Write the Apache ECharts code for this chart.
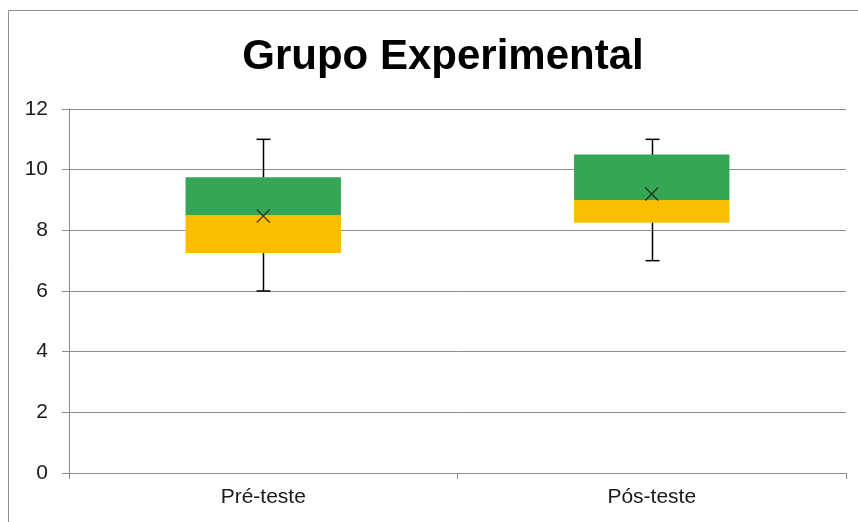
<!DOCTYPE html>
<html>
<head>
<meta charset="utf-8">
<script src="https://cdn.jsdelivr.net/npm/echarts@6/dist/echarts.min.js"></script>
<style>
  html, body { margin: 0; padding: 0; background: #fff; }
  #main { width: 858px; height: 522px; }
</style>
</head>
<body>
<div id="main"></div>
<script>
// dados
var categorias = ['Pré-teste', 'Pós-teste'];
var minimo = [6, 7];
var q1 = [7.25, 8.25];
var mediana = [8.5, 9];
var q3 = [9.75, 10.5];
var maximo = [11, 11];
var media = [8.47, 9.2];
var yTicks = [0, 2, 4, 6, 8, 10, 12];

var chart = echarts.init(document.getElementById('main'));

var baseVals = q1.slice();
var inferior = q1.map(function (v, i) { return mediana[i] - v; });
var superior = q3.map(function (v, i) { return v - mediana[i]; });

var fonte = 'Liberation Sans, Arial, sans-serif';

var option = {
  animation: false,
  backgroundColor: '#fff',
  title: {
    text: 'Grupo Experimental',
    left: 438,
    top: 31,
    textAlign: 'center',
    textStyle: { fontFamily: fonte, fontSize: 42, fontWeight: 'bold', color: '#000' }
  },
  graphic: [{
    type: 'rect',
    shape: { x: 8.5, y: 10.5, width: 900, height: 600 },
    style: { fill: 'none', stroke: '#8c8c8c', lineWidth: 1 },
    silent: true
  }],
  grid: { left: 69, right: 12, top: 109, bottom: 49 },
  xAxis: {
    type: 'category',
    data: categorias,
    boundaryGap: true,
    axisLine: { lineStyle: { color: '#8c8c8c', width: 1 } },
    axisTick: { show: true, length: 6, lineStyle: { color: '#8c8c8c' } },
    axisLabel: { fontFamily: fonte, fontSize: 21, color: '#1a1a1a', margin: 14 }
  },
  yAxis: {
    type: 'value',
    min: yTicks[0],
    max: yTicks[yTicks.length - 1],
    interval: 2,
    axisLine: { show: true, lineStyle: { color: '#8c8c8c', width: 1 } },
    axisTick: { show: true, length: 7, lineStyle: { color: '#8c8c8c' } },
    axisLabel: { fontFamily: fonte, fontSize: 21, color: '#1a1a1a', margin: 21 },
    splitLine: { show: true, lineStyle: { color: '#8c8c8c', width: 1 } }
  },
  series: [
    {
      name: 'bigodes',
      type: 'custom',
      z: 1,
      data: categorias.map(function (c, i) { return [i, minimo[i], maximo[i]]; }),
      renderItem: function (params, api) {
        var baixo = api.coord([api.value(0), api.value(1)]);
        var alto = api.coord([api.value(0), api.value(2)]);
        var x = Math.round(baixo[0]) + 0.5;
        var cap = 7;
        var estilo = { stroke: '#000', lineWidth: 1.5 };
        return {
          type: 'group',
          children: [
            { type: 'line', shape: { x1: x, y1: alto[1], x2: x, y2: baixo[1] }, style: estilo },
            { type: 'line', shape: { x1: x - cap, y1: alto[1], x2: x + cap, y2: alto[1] }, style: estilo },
            { type: 'line', shape: { x1: x - cap, y1: baixo[1], x2: x + cap, y2: baixo[1] }, style: estilo }
          ]
        };
      }
    },
    {
      name: 'base',
      type: 'bar',
      stack: 'caixa',
      barWidth: '40%',
      z: 2,
      itemStyle: { color: 'transparent' },
      data: baseVals
    },
    {
      name: 'Q1-mediana',
      type: 'bar',
      stack: 'caixa',
      z: 2,
      itemStyle: { color: '#FBBD00' },
      data: inferior
    },
    {
      name: 'mediana-Q3',
      type: 'bar',
      stack: 'caixa',
      z: 2,
      itemStyle: { color: '#35A656' },
      data: superior
    },
    {
      name: 'media',
      type: 'scatter',
      z: 5,
      symbol: 'path://M0,0L10,10M10,0L0,10',
      symbolSize: 13,
      itemStyle: { color: 'none', borderColor: '#1a1a1a', borderWidth: 1.3 },
      data: media.map(function (v, i) { return [i, v]; })
    }
  ]
};

chart.setOption(option);
</script>
</body>
</html>
